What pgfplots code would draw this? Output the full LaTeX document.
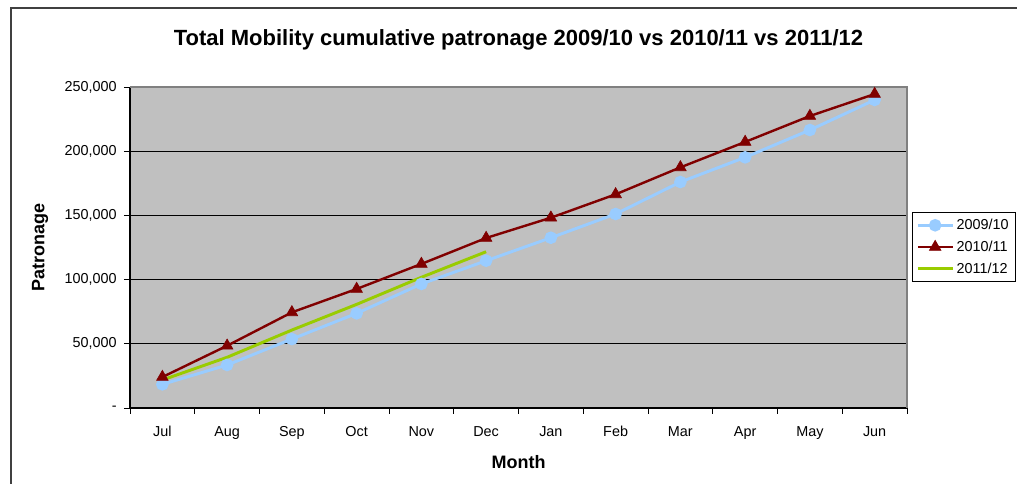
\documentclass[border=0pt]{standalone}
\usepackage{pgfplots}
\pgfplotsset{compat=1.18}
\usepackage{fontspec}
\setmainfont{Liberation Sans}
\definecolor{plotbg}{HTML}{C0C0C0}
\definecolor{sblue}{HTML}{99CCFF}
\definecolor{sred}{HTML}{800000}
\definecolor{sgreen}{HTML}{99CC00}
\begin{document}
\begin{tikzpicture}
\useasboundingbox (0,0) rectangle (762.75pt,363pt);
\begin{axis}[
  at={(97.5pt,57pt)}, anchor=south west,
  scale only axis, width=582.75pt, height=240.75pt,
  xmin=-0.5, xmax=11.5, ymin=0, ymax=250000,
  axis background/.style={fill=plotbg},
  axis x line*=bottom, axis y line*=left,
  axis line style={-, black, line width=0.8pt},
  xtick={-0.5,0.5,...,11.5},
  x tick label as interval,
  xticklabels={Jul,Aug,Sep,Oct,Nov,Dec,Jan,Feb,Mar,Apr,May,Jun},
  xticklabel style={text height=1.6ex, text depth=0.3ex, yshift=-5pt},
  ytick={0,50000,100000,150000,200000,250000},
  scaled y ticks=false,
  yticklabels={{-},{50,000},{100,000},{150,000},{200,000},{250,000}},
  yticklabel style={xshift=-2pt},
  xtick pos=bottom, ytick pos=left,
  tick align=outside, major tick length=4.5pt,
  tick style={black, line width=0.6pt},
  ymajorgrids, grid style={black, line width=0.7pt},
  ticklabel style={font=\fontsize{10.8pt}{13pt}\selectfont},
  title={\textbf{Total Mobility cumulative patronage 2009/10 vs 2010/11 vs 2011/12}},
  title style={at={(axis description cs:0.5,1.1215)}, anchor=center, yshift=0pt, font=\fontsize{16.5pt}{19pt}\selectfont},
  xlabel={\textbf{Month}},
  xlabel style={at={(axis description cs:0.5,-0.1682)}, anchor=center, font=\fontsize{13.5pt}{16pt}\selectfont},
  ylabel={\textbf{Patronage}},
  ylabel style={at={(axis description cs:-0.1158,0.5)}, anchor=center, font=\fontsize{13.5pt}{16pt}\selectfont},
  legend style={at={(axis description cs:1.0064,0.6106)}, anchor=north west,
    draw=black, line width=0.6pt, fill=white, font=\fontsize{10.8pt}{13pt}\selectfont,
    row sep=3pt, inner xsep=3pt, inner ysep=3pt, cells={anchor=west}},
  legend image code/.code={\draw[mark repeat=2,mark phase=2] plot coordinates {(0pt,0pt)(13pt,0pt)(26pt,0pt)};},
  clip=false,
]
\addplot[sblue, line width=2.2pt, mark=*, mark size=3.6pt, mark options={solid, fill=sblue, draw=sblue}] coordinates {
(0,18400) (1,33500) (2,53700) (3,73700) (4,96600) (5,114700)
(6,132600) (7,151100) (8,176000) (9,195200) (10,216500) (11,239900)};
\addlegendentry{2009/10}
\addplot[sred, line width=1.8pt, mark=triangle*, mark size=5pt, mark options={solid, fill=sred, draw=sred, line width=0.5pt}] coordinates {
(0,24100) (1,48500) (2,74500) (3,92700) (4,112200) (5,132400)
(6,148200) (7,166400) (8,187400) (9,207200) (10,227400) (11,244500)};
\addlegendentry{2010/11}
\addplot[sgreen, line width=2.2pt, mark=none] coordinates {
(0,21800) (1,39500) (2,60700) (3,80700) (4,101800) (5,121700)};
\addlegendentry{2011/12}
\draw[gray, line width=0.8pt] (axis description cs:0,1) -- (axis description cs:1,1) -- (axis description cs:1,0);
\end{axis}
\draw[line width=1.5pt, black!75] (8.25pt,-2pt) -- (8.25pt,357pt) -- (765pt,357pt);
\end{tikzpicture}
\end{document}
